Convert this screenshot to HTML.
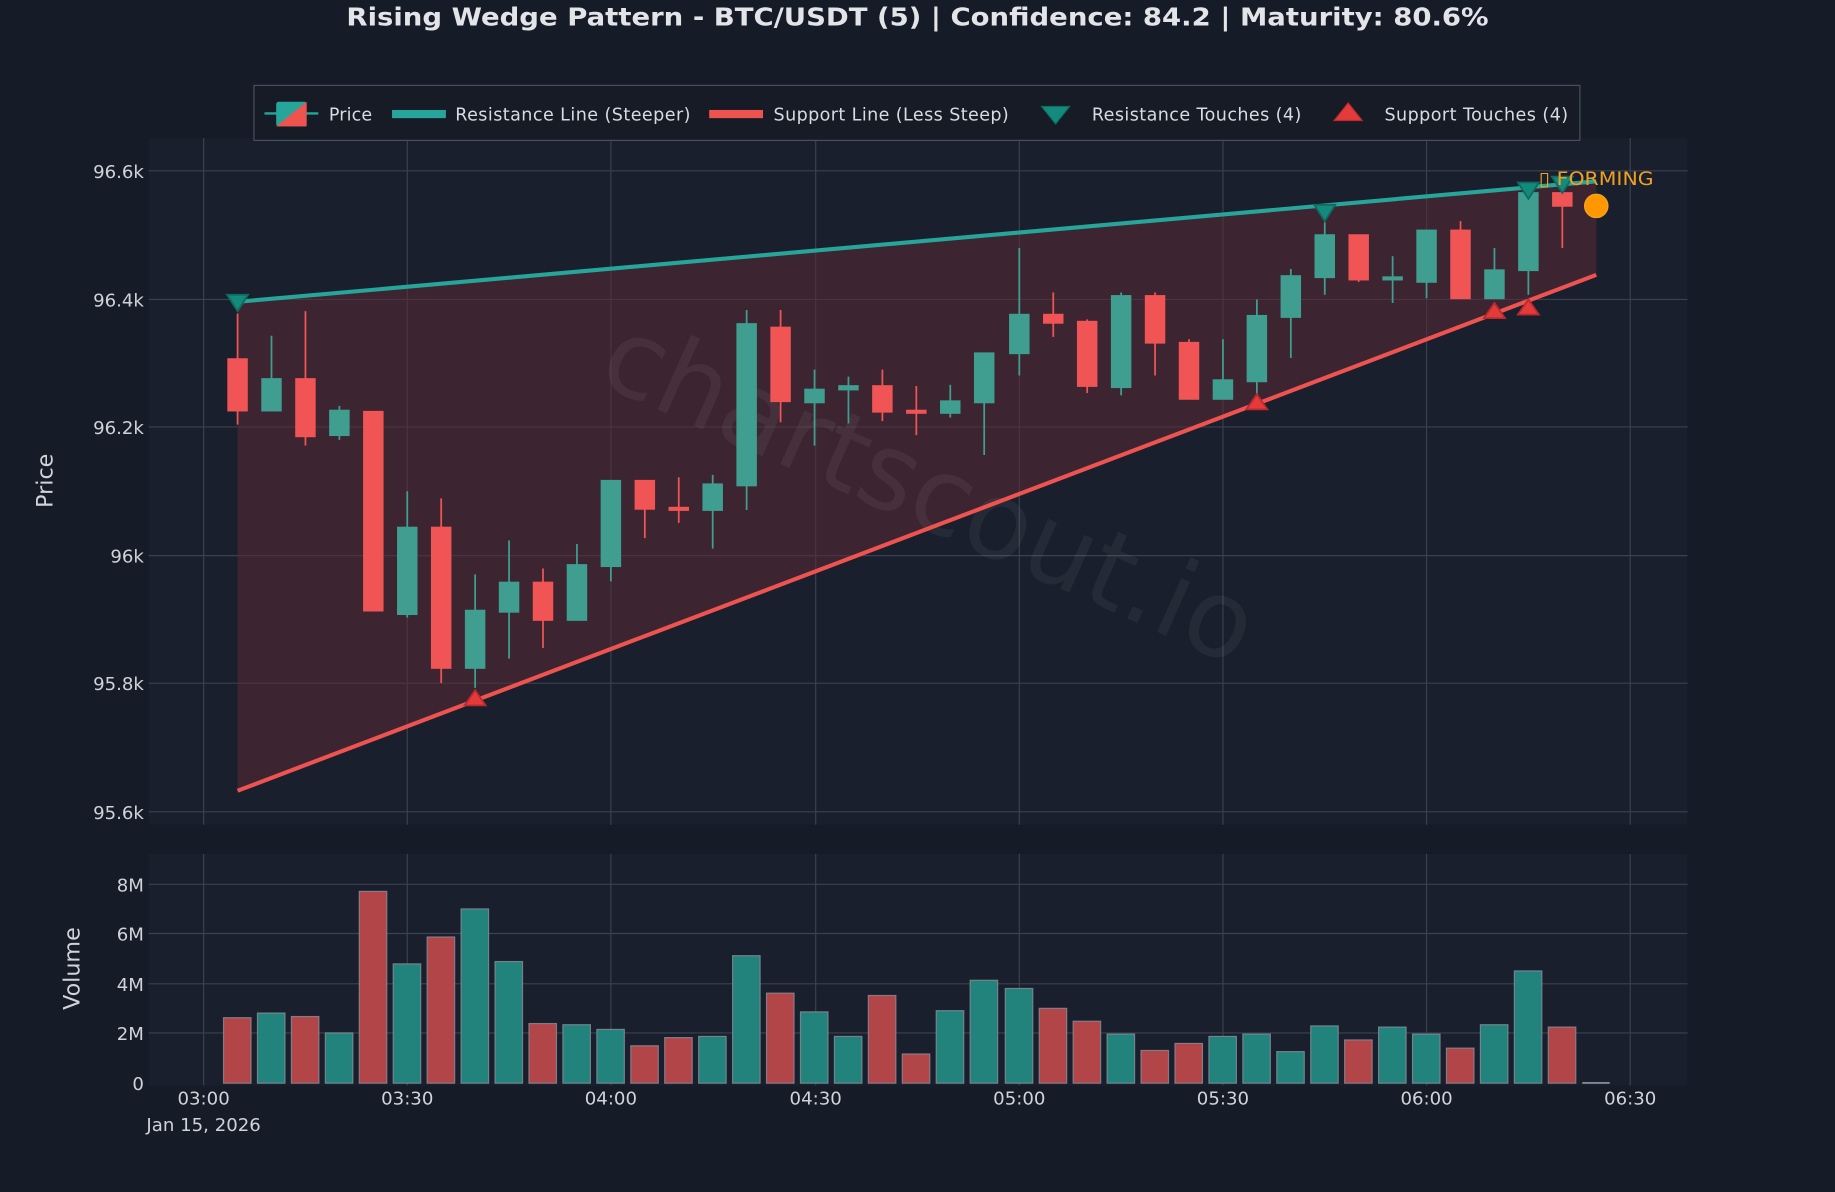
<!DOCTYPE html>
<html><head><meta charset="utf-8"><style>
html,body{margin:0;padding:0;background:#151b27;}
svg{display:block;font-family:"DejaVu Sans","Liberation Sans",sans-serif;}
</style></head><body>
<svg width="1835" height="1192" viewBox="0 0 1568 1019" preserveAspectRatio="none" xmlns="http://www.w3.org/2000/svg">
<rect x="0" y="0" width="1568" height="1019" fill="#151b27"/>
<text x="296" y="22" textLength="976" lengthAdjust="spacingAndGlyphs" font-size="21" font-weight="bold" fill="#e2e4e8">Rising Wedge Pattern - BTC/USDT (5) | Confidence: 84.2 | Maturity: 80.6%</text>
<!-- price panel -->
<rect x="127" y="118" width="1315" height="587" fill="#1a1f2d"/>
<g stroke="#3a4150" stroke-width="1">
<line x1="174" y1="118" x2="174" y2="705"/><line x1="348" y1="118" x2="348" y2="705"/><line x1="522" y1="118" x2="522" y2="705"/><line x1="697" y1="118" x2="697" y2="705"/><line x1="871" y1="118" x2="871" y2="705"/><line x1="1045" y1="118" x2="1045" y2="705"/><line x1="1219" y1="118" x2="1219" y2="705"/><line x1="1393" y1="118" x2="1393" y2="705"/>
<line x1="127" y1="146" x2="1442" y2="146"/><line x1="127" y1="256" x2="1442" y2="256"/><line x1="127" y1="365" x2="1442" y2="365"/><line x1="127" y1="475" x2="1442" y2="475"/><line x1="127" y1="584" x2="1442" y2="584"/><line x1="127" y1="694" x2="1442" y2="694"/>
</g>
<g font-size="15.5" fill="#d0d3d8" text-anchor="end">
<text x="123" y="152">96.6k</text><text x="123" y="262">96.4k</text><text x="123" y="371">96.2k</text><text x="123" y="481">96k</text><text x="123" y="590">95.8k</text><text x="123" y="700">95.6k</text>
</g>
<text transform="translate(45,411) rotate(-90)" text-anchor="middle" font-size="19" fill="#d0d3d8">Price</text>
<polygon points="203,258 1364,155 1364,235 203,676" fill="#5a2a35" fill-opacity="0.55"/>
<text transform="translate(782,448) rotate(24)" text-anchor="middle" font-size="92" fill="#ffffff" fill-opacity="0.05">chartscout.io</text>
<!-- candles -->
<g stroke-width="1.5">
<g stroke="#f05454" fill="#f05454">
<line x1="203" y1="268" x2="203" y2="363"/><rect x="195" y="307" width="16" height="44"/>
<line x1="261" y1="266" x2="261" y2="381"/><rect x="253" y="324" width="16" height="49"/>
<line x1="319" y1="352" x2="319" y2="522"/><rect x="311" y="352" width="16" height="170"/>
<line x1="377" y1="426" x2="377" y2="584"/><rect x="369" y="451" width="16" height="120"/>
<line x1="464" y1="486" x2="464" y2="554"/><rect x="456" y="498" width="16" height="32"/>
<line x1="551" y1="411" x2="551" y2="460"/><rect x="543" y="411" width="16" height="24"/>
<line x1="580" y1="408" x2="580" y2="447"/><rect x="572" y="434" width="16" height="2"/>
<line x1="667" y1="265" x2="667" y2="361"/><rect x="659" y="280" width="16" height="63"/>
<line x1="754" y1="316" x2="754" y2="360"/><rect x="746" y="330" width="16" height="22"/>
<line x1="783" y1="330" x2="783" y2="372"/><rect x="775" y="351" width="16" height="2"/>
<line x1="900" y1="250" x2="900" y2="288"/><rect x="892" y="269" width="16" height="7"/>
<line x1="929" y1="273" x2="929" y2="336"/><rect x="921" y="275" width="16" height="55"/>
<line x1="987" y1="250" x2="987" y2="321"/><rect x="979" y="253" width="16" height="40"/>
<line x1="1016" y1="290" x2="1016" y2="341"/><rect x="1008" y="293" width="16" height="48"/>
<line x1="1161" y1="201" x2="1161" y2="241"/><rect x="1153" y="201" width="16" height="38"/>
<line x1="1248" y1="189" x2="1248" y2="255"/><rect x="1240" y="197" width="16" height="58"/>
<line x1="1335" y1="155" x2="1335" y2="212"/><rect x="1327" y="165" width="16" height="11"/>
</g>
<g stroke="#3f9e90" fill="#3f9e90">
<line x1="232" y1="287" x2="232" y2="351"/><rect x="224" y="324" width="16" height="27"/>
<line x1="290" y1="347" x2="290" y2="376"/><rect x="282" y="351" width="16" height="21"/>
<line x1="348" y1="420" x2="348" y2="528"/><rect x="340" y="451" width="16" height="74"/>
<line x1="406" y1="491" x2="406" y2="588"/><rect x="398" y="522" width="16" height="49"/>
<line x1="435" y1="462" x2="435" y2="563"/><rect x="427" y="498" width="16" height="25"/>
<line x1="493" y1="465" x2="493" y2="530"/><rect x="485" y="483" width="16" height="47"/>
<line x1="522" y1="411" x2="522" y2="497"/><rect x="514" y="411" width="16" height="73"/>
<line x1="609" y1="406" x2="609" y2="469"/><rect x="601" y="414" width="16" height="22"/>
<line x1="638" y1="265" x2="638" y2="436"/><rect x="630" y="277" width="16" height="138"/>
<line x1="696" y1="316" x2="696" y2="381"/><rect x="688" y="333" width="16" height="11"/>
<line x1="725" y1="322" x2="725" y2="362"/><rect x="717" y="330" width="16" height="3"/>
<line x1="812" y1="329" x2="812" y2="357"/><rect x="804" y="343" width="16" height="10"/>
<line x1="841" y1="302" x2="841" y2="389"/><rect x="833" y="302" width="16" height="42"/>
<line x1="871" y1="212" x2="871" y2="321"/><rect x="863" y="269" width="16" height="33"/>
<line x1="958" y1="250" x2="958" y2="338"/><rect x="950" y="253" width="16" height="78"/>
<line x1="1045" y1="290" x2="1045" y2="341"/><rect x="1037" y="325" width="16" height="16"/>
<line x1="1074" y1="256" x2="1074" y2="346"/><rect x="1066" y="270" width="16" height="56"/>
<line x1="1103" y1="230" x2="1103" y2="306"/><rect x="1095" y="236" width="16" height="35"/>
<line x1="1132" y1="190" x2="1132" y2="252"/><rect x="1124" y="201" width="16" height="36"/>
<line x1="1190" y1="219" x2="1190" y2="259"/><rect x="1182" y="237" width="16" height="2"/>
<line x1="1219" y1="197" x2="1219" y2="255"/><rect x="1211" y="197" width="16" height="44"/>
<line x1="1277" y1="212" x2="1277" y2="255"/><rect x="1269" y="231" width="16" height="24"/>
<line x1="1306" y1="160" x2="1306" y2="252"/><rect x="1298" y="165" width="16" height="66"/>
</g>
</g>
<line x1="203" y1="258" x2="1364" y2="155" stroke="#26a69a" stroke-width="3.5"/>
<line x1="203" y1="676" x2="1364" y2="235" stroke="#ef5350" stroke-width="3.5"/>
<g fill="#138a7c" stroke="#0d6b60" stroke-width="1.5">
<polygon points="194,252 212,252 203,266"/><polygon points="1123,175 1141,175 1132,189"/><polygon points="1297,156 1315,156 1306,170"/><polygon points="1326,151 1344,151 1335,165"/>
</g>
<g fill="#e53a3a" stroke="#b82a2e" stroke-width="1.5">
<polygon points="397,603 415,603 406,590"/><polygon points="1065,350 1083,350 1074,337"/><polygon points="1268,272 1286,272 1277,259"/><polygon points="1297,269 1315,269 1306,256"/>
</g>
<circle cx="1364" cy="176" r="10" fill="#ff9800" stroke="#f5a623" stroke-width="1"/>
<text x="1315" y="158" font-size="16" textLength="98" lengthAdjust="spacingAndGlyphs" fill="#f0a020">▯ FORMING</text>
<!-- legend -->
<rect x="217" y="73" width="1133" height="47" fill="#161b26" stroke="#4a5060" stroke-width="1"/>
<line x1="226" y1="97" x2="272" y2="97" stroke="#26a69a" stroke-width="2"/>
<rect x="236" y="87" width="26" height="21" fill="#26a69a" rx="2"/>
<polygon points="262,87 262,108 236,108" fill="#ef5350"/>
<g font-size="15" fill="#d8dbe0" lengthAdjust="spacingAndGlyphs">
<text x="281" y="103" textLength="37">Price</text>
<rect x="335" y="94" width="46" height="7" fill="#26a69a"/>
<text x="389" y="103" textLength="201">Resistance Line (Steeper)</text>
<rect x="606" y="94" width="46" height="7" fill="#ef5350"/>
<text x="661" y="103" textLength="201">Support Line (Less Steep)</text>
<polygon points="890,91 914,91 902,106" fill="#138a7c" stroke="#0d6b60"/>
<text x="933" y="103" textLength="179">Resistance Touches (4)</text>
<polygon points="1140,103 1164,103 1152,88" fill="#e53a3a" stroke="#b82a2e"/>
<text x="1183" y="103" textLength="157">Support Touches (4)</text>
</g>
<!-- volume panel -->
<rect x="127" y="730" width="1315" height="198" fill="#1a1f2d"/>
<g stroke="#3a4150" stroke-width="1">
<line x1="174" y1="730" x2="174" y2="928"/><line x1="348" y1="730" x2="348" y2="928"/><line x1="522" y1="730" x2="522" y2="928"/><line x1="697" y1="730" x2="697" y2="928"/><line x1="871" y1="730" x2="871" y2="928"/><line x1="1045" y1="730" x2="1045" y2="928"/><line x1="1219" y1="730" x2="1219" y2="928"/><line x1="1393" y1="730" x2="1393" y2="928"/>
<line x1="127" y1="756" x2="1442" y2="756"/><line x1="127" y1="798" x2="1442" y2="798"/><line x1="127" y1="841" x2="1442" y2="841"/><line x1="127" y1="883" x2="1442" y2="883"/>
</g>
<g font-size="15.5" fill="#d0d3d8" text-anchor="end">
<text x="123" y="762">8M</text><text x="123" y="804">6M</text><text x="123" y="847">4M</text><text x="123" y="889">2M</text><text x="123" y="932">0</text>
</g>
<text transform="translate(68,828) rotate(-90)" text-anchor="middle" font-size="19" fill="#d0d3d8">Volume</text>
<g stroke="#8a8f9a" stroke-width="1" stroke-opacity="0.8">
<g fill="#b24548">
<rect x="191" y="870" width="23.5" height="56"/><rect x="249" y="869" width="23.5" height="57"/><rect x="307" y="762" width="23.5" height="164"/><rect x="365" y="801" width="23.5" height="125"/><rect x="452" y="875" width="23.5" height="51"/><rect x="539" y="894" width="23.5" height="32"/><rect x="568" y="887" width="23.5" height="39"/><rect x="655" y="849" width="23.5" height="77"/><rect x="742" y="851" width="23.5" height="75"/><rect x="771" y="901" width="23.5" height="25"/><rect x="888" y="862" width="23.5" height="64"/><rect x="917" y="873" width="23.5" height="53"/><rect x="975" y="898" width="23.5" height="28"/><rect x="1004" y="892" width="23.5" height="34"/><rect x="1149" y="889" width="23.5" height="37"/><rect x="1236" y="896" width="23.5" height="30"/><rect x="1323" y="878" width="23.5" height="48"/>
</g>
<g fill="#21837b">
<rect x="220" y="866" width="23.5" height="60"/><rect x="278" y="883" width="23.5" height="43"/><rect x="336" y="824" width="23.5" height="102"/><rect x="394" y="777" width="23.5" height="149"/><rect x="423" y="822" width="23.5" height="104"/><rect x="481" y="876" width="23.5" height="50"/><rect x="510" y="880" width="23.5" height="46"/><rect x="597" y="886" width="23.5" height="40"/><rect x="626" y="817" width="23.5" height="109"/><rect x="684" y="865" width="23.5" height="61"/><rect x="713" y="886" width="23.5" height="40"/><rect x="800" y="864" width="23.5" height="62"/><rect x="829" y="838" width="23.5" height="88"/><rect x="859" y="845" width="23.5" height="81"/><rect x="946" y="884" width="23.5" height="42"/><rect x="1033" y="886" width="23.5" height="40"/><rect x="1062" y="884" width="23.5" height="42"/><rect x="1091" y="899" width="23.5" height="27"/><rect x="1120" y="877" width="23.5" height="49"/><rect x="1178" y="878" width="23.5" height="48"/><rect x="1207" y="884" width="23.5" height="42"/><rect x="1265" y="876" width="23.5" height="50"/><rect x="1294" y="830" width="23.5" height="96"/>
</g>
</g>
<rect x="1352" y="925" width="23.5" height="1.5" fill="#8a8f9a"/>
<g font-size="15.5" fill="#d0d3d8" text-anchor="middle">
<text x="174" y="944">03:00</text><text x="348" y="944">03:30</text><text x="522" y="944">04:00</text><text x="697" y="944">04:30</text><text x="871" y="944">05:00</text><text x="1045" y="944">05:30</text><text x="1219" y="944">06:00</text><text x="1393" y="944">06:30</text>
<text x="174" y="967">Jan 15, 2026</text>
</g>
</svg>
</body></html>
